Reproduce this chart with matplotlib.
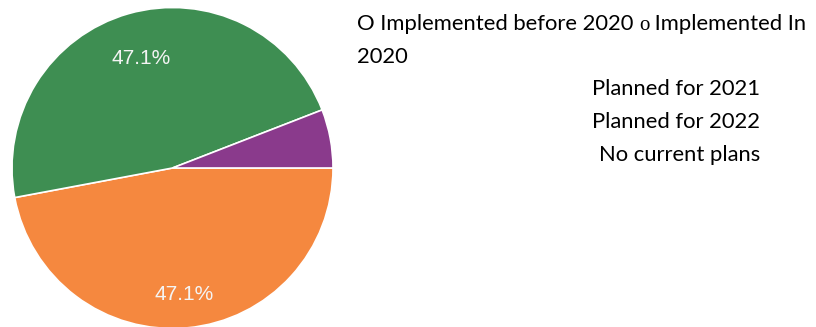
import matplotlib
matplotlib.use("Agg")
import matplotlib.pyplot as plt
import numpy as np

# Data
categories = ["Implemented before 2020", "Implemented In 2020", "Planned for 2021",
              "Planned for 2022", "No current plans"]
values = [0.0, 0.0, 47.1, 47.1, 5.9]
colors = ["#3366cc", "#dc3912", "#f5883f", "#3e8e52", "#8a3a8c"]

W, H = 816, 327
fig = plt.figure(figsize=(W / 100, H / 100), dpi=100)
fig.patch.set_facecolor("white")

cx, cy, r = 172.5, 168, 160.5
ax = fig.add_axes([(cx - r) / W, (H - cy - r) / H, 2 * r / W, 2 * r / H])

vals = [v for v in values if v > 0]
cols = [c for v, c in zip(values, colors) if v > 0]
wedges, texts, autotexts = ax.pie(
    vals, colors=cols, startangle=0, counterclock=False,
    autopct=lambda p: f"{p:.1f}%" if p > 10 else "",
    pctdistance=0.76,
    wedgeprops=dict(edgecolor="white", linewidth=1.2),
    textprops=dict(color="#f4f4f4", fontsize=15, family="Liberation Sans"))
# label radial distances as placed in the original
label_dist = [0.79, 0.71, 0.76]
for w, t, d in zip(wedges, autotexts, label_dist):
    ang = np.deg2rad((w.theta1 + w.theta2) / 2)
    t.set_position((d * np.cos(ang), d * np.sin(ang)))
ax.set_xlim(-1, 1)
ax.set_ylim(-1, 1)
ax.set_aspect("equal")
ax.axis("off")

# Legend-like text
font = "Lato"
fs = 15.8
y1 = 1 - 30 / H  # baseline
t1 = fig.text(357 / W, y1, "O " + categories[0] + " ", fontsize=fs,
              family=font, va="baseline", ha="left")
t2 = fig.text(0, 0, "o", fontsize=fs * 0.95, family="Liberation Serif",
              va="baseline", ha="left")
fig.canvas.draw()
bb = t1.get_window_extent()
t2.set_position((bb.x1 / W, y1))
fig.canvas.draw()
bb2 = t2.get_window_extent()
words = categories[1].split(" ")
fig.text(bb2.x1 / W, y1, " " + " ".join(words[:2]), fontsize=fs,
         family=font, va="baseline", ha="left")
fig.text(357 / W, 1 - 57 / H, words[2], fontsize=fs, family=font, va="center", ha="left")

for lab, y in zip(categories[2:], [89, 122, 155]):
    fig.text(760 / W, 1 - y / H, lab, fontsize=fs, family=font, va="center", ha="right")

fig.savefig("out.png", dpi=100)
